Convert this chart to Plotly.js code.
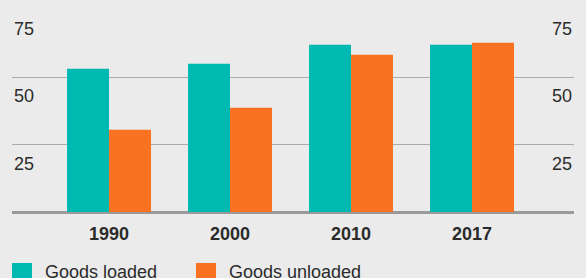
<!DOCTYPE html>
<html>
<head>
<meta charset="utf-8">
<script src="https://cdn.plot.ly/plotly-3.0.1.min.js"></script>
<style>
  html, body { margin: 0; padding: 0; background: #ebebeb; }
  #chart { width: 586px; height: 278px; }
</style>
</head>
<body>
<div id="chart"></div>
<script>
const years = ['1990', '2000', '2010', '2017'];
const goodsLoaded = [53.2, 55.0, 62.1, 62.1];
const goodsUnloaded = [30.5, 38.7, 58.4, 62.8];
const seriesNames = ['Goods loaded', 'Goods unloaded'];
const seriesColors = ['#00b9b0', '#f97221'];
const yTicks = [25, 50, 75];

const FONT = 'Liberation Sans, Arial, sans-serif';
const TEXT = '#2b2b2b';

const traces = [goodsLoaded, goodsUnloaded].map((vals, i) => ({
  type: 'bar',
  x: years,
  y: vals,
  name: seriesNames[i],
  marker: { color: seriesColors[i], line: { width: 0 } },
  hoverinfo: 'skip'
}));

const annotations = [];
yTicks.forEach(v => {
  [0, 1].forEach(side => {
    annotations.push({
      xref: 'paper', yref: 'y', x: side, y: v,
      xanchor: side === 0 ? 'left' : 'right', yanchor: 'top',
      yshift: -7, showarrow: false, text: String(v),
      font: { family: FONT, size: 18, color: TEXT }
    });
  });
});

// legend built manually (large square swatches)
const shapes = [];
const legendX = [0, 0.3274];
const plotW = 562, plotH = 202;
seriesNames.forEach((name, i) => {
  const x0 = legendX[i];
  shapes.push({
    type: 'rect', xref: 'paper', yref: 'paper',
    x0: x0, x1: x0 + 20 / plotW,
    y0: (212 - 283) / plotH, y1: (212 - 263) / plotH,
    fillcolor: seriesColors[i], line: { width: 0 }
  });
  annotations.push({
    xref: 'paper', yref: 'paper', x: x0 + 31 / plotW, y: (212 - 272) / plotH,
    xanchor: 'left', yanchor: 'middle', showarrow: false, text: name,
    font: { family: FONT, size: 18, color: TEXT }
  });
});

const layout = {
  width: 586, height: 278,
  margin: { l: 12, r: 12, t: 10, b: 66, pad: 0 },
  paper_bgcolor: '#ebebeb',
  plot_bgcolor: '#ebebeb',
  barmode: 'group',
  bargap: 0.306,
  bargroupgap: 0,
  showlegend: false,
  font: { family: FONT, color: TEXT },
  xaxis: {
    type: 'category',
    range: [-0.802, 3.843],
    showgrid: false, zeroline: false, showline: false,
    ticks: '',
    ticklabelstandoff: 9,
    tickfont: { family: FONT, size: 18, color: TEXT, weight: 'bold' },
    fixedrange: true
  },
  yaxis: {
    range: [0, 75],
    tickvals: yTicks,
    showticklabels: false,
    showgrid: true, gridcolor: '#ababab', gridwidth: 1.5,
    zeroline: true, zerolinecolor: '#9a9a9a', zerolinewidth: 3,
    showline: false, ticks: '',
    fixedrange: true
  },
  shapes: shapes,
  annotations: annotations
};

Plotly.newPlot('chart', traces, layout, { displayModeBar: false, staticPlot: true });
</script>
</body>
</html>
